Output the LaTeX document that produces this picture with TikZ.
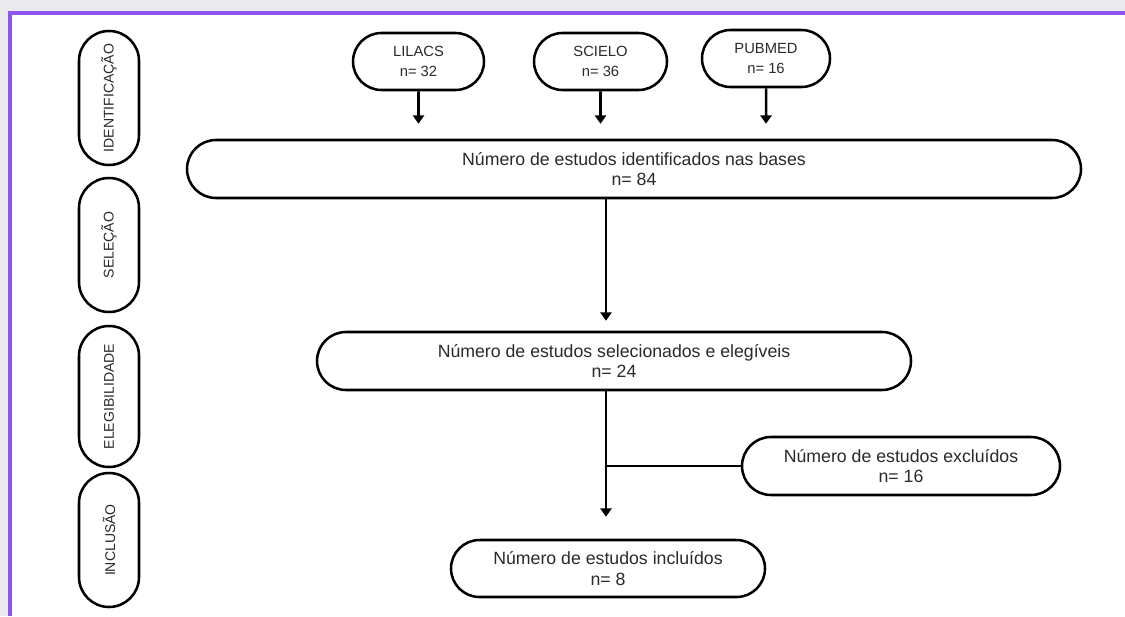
\documentclass[tikz,border=0pt]{standalone}
\usepackage{fontspec}
\setmainfont{Liberation Sans}
\usetikzlibrary{shapes.misc,arrows.meta}
\definecolor{framepurple}{HTML}{8B55F0}
\definecolor{framegray}{HTML}{E9E9EE}
\definecolor{textdark}{HTML}{2A2A2A}

\begin{document}
\begin{tikzpicture}[
    every node/.style={text=textdark},
    pill/.style={draw=black,line width=1.8pt,rounded rectangle,align=center,inner sep=0pt},
    fase/.style={pill,rotate=90,minimum width=3.35cm,minimum height=1.5cm,font=\fontsize{10}{11}\selectfont},
    fonte/.style={pill,minimum height=1.425cm,font=\fontsize{10.5}{14.5}\selectfont},
    etapa/.style={pill,minimum height=1.45cm,font=\fontsize{12.6}{14.8}\selectfont},
    seta/.style={line width=1.8pt,-{Triangle[width=8pt,length=6pt]}}
  ]
        \useasboundingbox (0,0) rectangle (28.125,15.4);
        \fill[framegray] (0,0) rectangle (28.125,15.4);
        \fill[white] (0.25,0) rectangle (28.125,15.075);
        \draw[framepurple,line width=2.6pt] (0.25,0) -- (0.25,15.075) -- (28.125,15.075);

        % fases, à esquerda
        \node[fase] (idfase) at (2.725,12.95) {IDENTIFICAÇÃO};
        \node[fase] (selfase) at (2.725,9.275) {SELEÇÃO};
        \node[fase,minimum width=3.525cm] (elegfase) at (2.725,5.4875) {ELEGIBILIDADE};
        \node[fase] (inclfase) at (2.725,1.9) {INCLUSÃO};

        % bases de dados
        \node[fonte,minimum width=3.275cm] (lilacs) at (10.4625,13.8625) {LILACS\\n= 32};
        \node[fonte,minimum width=3.325cm] (scielo) at (15.0125,13.8625) {SCIELO\\n= 36};
        \node[fonte,minimum width=3.2cm] (pubmed) at (19.15,13.9375) {PUBMED\\n= 16};

        \node[etapa,minimum width=22.35cm] (bases) at (15.85,11.175)
          {Número de estudos identificados nas bases\\n= 84};
        \node[etapa,minimum width=14.85cm] (selecionados) at (15.35,6.375)
          {Número de estudos selecionados e elegíveis\\n= 24};
        \node[etapa,minimum width=7.95cm] (excluidos) at (22.525,3.75)
          {Número de estudos excluídos\\n= 16};
        \node[etapa,minimum width=7.85cm,minimum height=1.425cm] (incluidos) at (15.2,1.1875)
          {Número de estudos incluídos\\n= 8};

        \foreach \b in {lilacs,scielo,pubmed}
          \draw[seta,shorten >=0.375cm] (\b) -- (\b |- bases.north);

        \coordinate (tronco) at (15.15,0);
        \draw[seta,shorten >=0.25cm] (bases.south -| tronco) -- (selecionados.north -| tronco);
        \draw[seta,shorten >=0.55cm] (selecionados.south -| tronco) -- (incluidos.north -| tronco);
        \draw[line width=1.8pt] (excluidos.west) -- (excluidos.west -| tronco);
      \end{tikzpicture}
\end{document}
